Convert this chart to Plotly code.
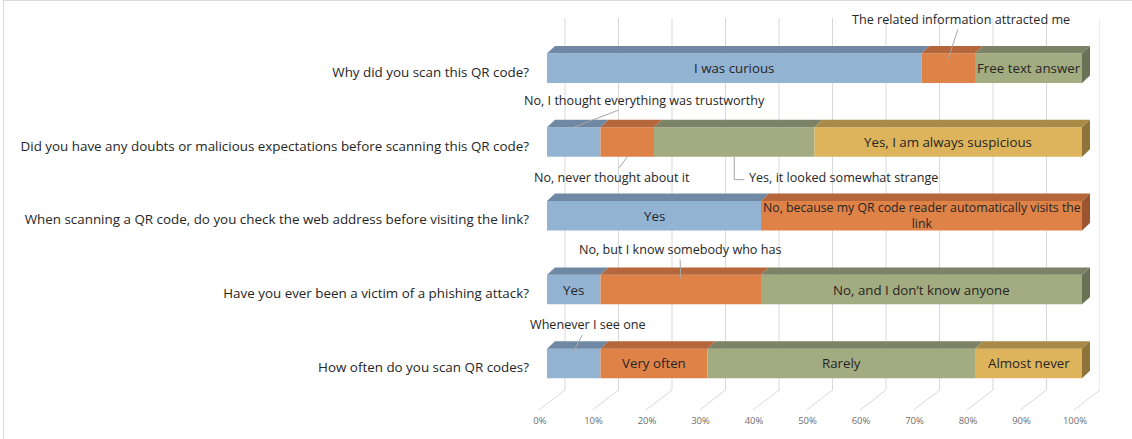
import plotly.graph_objects as go

# ---------------- data ----------------
questions = [
    "Why did you scan this QR code?",
    "Did you have any doubts or malicious expectations before scanning this QR code?",
    "When scanning a QR code, do you check the web address before visiting the link?",
    "Have you ever been a victim of a phishing attack?",
    "How often do you scan QR codes?",
]
answers_why = ["I was curious", "The related information attracted me", "Free text answer"]
values_why = [70, 10, 20]
answers_doubt = ["No, I thought everything was trustworthy", "No, never thought about it",
                 "Yes, it looked somewhat strange", "Yes, I am always suspicious"]
values_doubt = [10, 10, 30, 50]
answers_check = ["Yes", "No, because my QR code reader automatically visits the<br>link"]
values_check = [40, 60]
answers_victim = ["Yes", "No, but I know somebody who has", "No, and I don\u2019t know anyone"]
values_victim = [10, 30, 60]
answers_often = ["Whenever I see one", "Very often", "Rarely", "Almost never"]
values_often = [10, 20, 50, 20]
tick_values = [0, 10, 20, 30, 40, 50, 60, 70, 80, 90, 100]
tick_labels = ["0%", "10%", "20%", "30%", "40%", "50%", "60%", "70%", "80%", "90%", "100%"]

all_answers = [answers_why, answers_doubt, answers_check, answers_victim, answers_often]
all_values = [values_why, values_doubt, values_check, values_victim, values_often]

# ---------------- style ----------------
front = ["#93B3D3", "#DF8247", "#A3AB80", "#DDB45C"]
top = ["#6F89A4", "#B5663B", "#7C8265", "#A98B47"]
side = ["#5F7791", "#9C5530", "#6B7156", "#8E7438"]
FONT = "Open Sans"
W, H = 1132, 439
L, R, T, B = 538, 32, 18, 29
PX_PER_UNIT = 5.35           # pixels per percent
X0_PX = 547                  # pixel of 0 %
ROW0_PX, ROW_STEP = 68.5, 74.4
HALF = 0.2                   # half bar thickness (row units)
DX = 8 / PX_PER_UNIT         # 3D depth in x (data units)
DY = 7.5 / ROW_STEP          # 3D depth in y (row units)

x_range = [(L - X0_PX) / PX_PER_UNIT, (W - R - X0_PX) / PX_PER_UNIT]
y_range = [4 + (H - B - (ROW0_PX + 4 * ROW_STEP)) / ROW_STEP, -(ROW0_PX - T) / ROW_STEP]

# callouts: (row, segment) -> (tip side, tip fraction, ax, ay)
callouts = {
    (0, 1): ("top", 0.07, 13, -39),
    (1, 0): ("top", 0.0, 71, -27),
    (1, 1): ("bottom", 0.0, -15, 21),
    (3, 1): ("top", 0.05, -1, -29),
    (4, 0): ("top", 0.03, 14, -26),
}
elbow = {(1, 2)}
small_inside = {(2, 1)}
CALLOUT_SIZE = 12.6

fig = go.Figure()
annotations = []
for r, (ans, vals) in enumerate(zip(all_answers, all_values)):
    base = 0
    for i, (a, v) in enumerate(zip(ans, vals)):
        # front face
        fig.add_trace(go.Bar(
            y=[r], x=[v], base=[base], orientation="h", width=2 * HALF,
            marker=dict(color=front[i], line=dict(width=0)),
            showlegend=False, hoverinfo="skip"))
        # top face
        yt = r - HALF
        fig.add_trace(go.Scatter(
            x=[base, base + DX, base + v + DX, base + v, base],
            y=[yt, yt - DY, yt - DY, yt, yt],
            mode="lines", fill="toself", fillcolor=top[i],
            line=dict(width=0, color=top[i]), showlegend=False, hoverinfo="skip"))
        # side face at bar end
        if i == len(vals) - 1:
            e = base + v
            fig.add_trace(go.Scatter(
                x=[e, e + DX, e + DX, e, e],
                y=[r - HALF, r - HALF - DY, r + HALF - DY, r + HALF, r - HALF],
                mode="lines", fill="toself", fillcolor=side[i],
                line=dict(width=0, color=side[i]), showlegend=False, hoverinfo="skip"))
        c = base + v / 2
        if (r, i) in callouts:
            s, f, ax, ay = callouts[(r, i)]
            ty = r - HALF + f if s == "top" else r + HALF - f
            annotations.append(dict(
                x=c, y=ty, xref="x", yref="y", text=a, showarrow=True,
                arrowhead=0, arrowwidth=1, arrowcolor="#A6A6A6", ax=ax, ay=ay,
                font=dict(family=FONT, size=CALLOUT_SIZE, color="#262626")))
        elif (r, i) in elbow:
            yl = r + HALF + 0.31
            fig.add_trace(go.Scatter(
                x=[c, c, c + 10 / PX_PER_UNIT], y=[r + HALF, yl, yl], mode="lines",
                line=dict(color="#A6A6A6", width=1), showlegend=False, hoverinfo="skip"))
            annotations.append(dict(
                x=c, y=yl, xref="x", yref="y", text=a, showarrow=False,
                xanchor="left", xshift=13, yshift=2,
                font=dict(family=FONT, size=CALLOUT_SIZE, color="#262626")))
        else:
            annotations.append(dict(
                x=c, y=r, xref="x", yref="y", text=a, showarrow=False,
                font=dict(family=FONT, size=12.3 if (r, i) in small_inside else 13.3,
                          color="#262626")))
        base += v

shapes = []
for v in tick_values:
    shapes.append(dict(type="line", xref="x", xsizemode="pixel", xanchor=v, x0=18, x1=18,
                       yref="paper", ysizemode="pixel", yanchor=1, y0=0, y1=-(390 - T),
                       line=dict(color="#D9D9D9", width=1), layer="below"))
    shapes.append(dict(type="line", xref="x", xsizemode="pixel", xanchor=v, x0=18, x1=-8,
                       yref="paper", ysizemode="pixel", yanchor=1, y0=-(390 - T), y1=-(410 - T),
                       line=dict(color="#D9D9D9", width=1), layer="below"))
# chart border (top and left)
shapes.append(dict(type="line", xref="paper", xsizemode="pixel", xanchor=0, x0=-(L - 3.5), x1=W,
                   yref="paper", ysizemode="pixel", yanchor=1, y0=T - 0.5, y1=T - 0.5,
                   line=dict(color="#D9D9D9", width=1)))
shapes.append(dict(type="line", xref="paper", xsizemode="pixel", xanchor=0, x0=-(L - 3.5), x1=-(L - 3.5),
                   yref="paper", ysizemode="pixel", yanchor=1, y0=T, y1=-H,
                   line=dict(color="#D9D9D9", width=1)))

fig.update_layout(
    width=W, height=H, margin=dict(l=L, r=R, t=T, b=B),
    paper_bgcolor="white", plot_bgcolor="white",
    barmode="overlay", showlegend=False,
    annotations=annotations, shapes=shapes,
    xaxis=dict(range=x_range, tickvals=tick_values, ticktext=tick_labels,
               showgrid=False, zeroline=False, showline=False, ticks="",
               ticklabelshift=-7, ticklabelstandoff=6,
               tickfont=dict(family=FONT, size=9.5, color="#6E6E6E"), fixedrange=True),
    yaxis=dict(range=y_range, tickvals=[0, 1, 2, 3, 4], ticktext=questions,
               showgrid=False, zeroline=False, showline=False, ticks="",
               ticklabelstandoff=8, ticklabelshift=-4,
               tickfont=dict(family=FONT, size=13.4, color="#262626"), fixedrange=True),
)

fig.write_html("out.html", config={"displayModeBar": False},
               post_script="document.body.style.margin='0px';")
